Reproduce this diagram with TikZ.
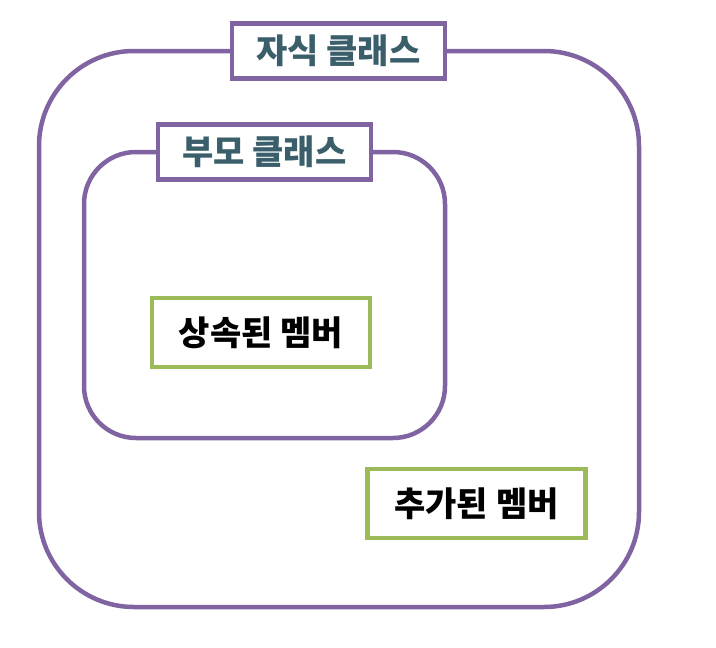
\documentclass[tikz,border=0pt]{standalone}
\usepackage{fontspec}
\setmainfont{Noto Sans CJK KR}
\usepackage{xcolor}
\usepackage{tikz}

\definecolor{framepurple}{HTML}{8064A2}
\definecolor{membergreen}{HTML}{9BBB59}
\definecolor{titleteal}{HTML}{3A5F6B}

\begin{document}
\begin{tikzpicture}[x=1pt,y=-1pt,
    classframe/.style={draw=framepurple,line width=4.5pt},
    classlabel/.style={draw=framepurple,line width=4.5pt,fill=white,text=titleteal,
      font=\fontsize{34}{36}\selectfont\bfseries,inner sep=0pt,
      minimum width=213pt,minimum height=55pt},
    memberbox/.style={draw=membergreen,line width=4.5pt,fill=white,
      font=\fontsize{34}{36}\selectfont\bfseries,inner sep=0pt,
      minimum width=218pt,minimum height=69pt}]
      \useasboundingbox (0,0) rectangle (716,648);
      \draw[classframe,rounded corners=95pt] (39,51) rectangle (639,607);
      \draw[classframe,rounded corners=52pt] (84,152) rectangle (445,438);
      \node[classlabel] (child)  at (338.5,51)  {자식 클래스};
      \node[classlabel] (parent) at (264.5,152) {부모 클래스};
      \node[memberbox] (inherited) at (261,332.5)   {상속된 멤버};
      \node[memberbox] (added)     at (476.5,503.5) {추가된 멤버};
\end{tikzpicture}
\end{document}
